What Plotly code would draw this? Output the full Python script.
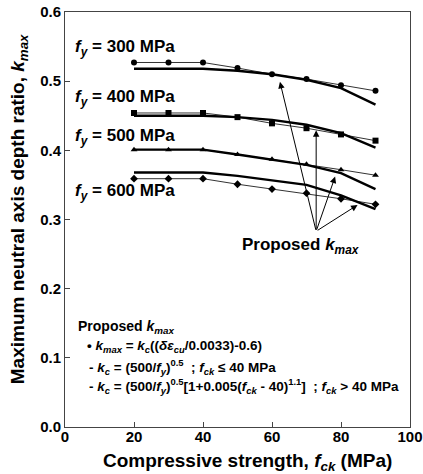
import plotly.graph_objects as go

fck = [20, 30, 40, 50, 60, 70, 80, 90]

k300 = [0.527, 0.527, 0.527, 0.519, 0.510, 0.503, 0.494, 0.486]
k400 = [0.454, 0.454, 0.454, 0.448, 0.439, 0.432, 0.423, 0.414]
k500 = [0.401, 0.401, 0.401, 0.394, 0.387, 0.380, 0.372, 0.364]
k600 = [0.359, 0.359, 0.359, 0.351, 0.344, 0.338, 0.330, 0.322]

p300 = [0.518, 0.518, 0.518, 0.515, 0.510, 0.502, 0.490, 0.466]
p400 = [0.450, 0.450, 0.450, 0.448, 0.444, 0.437, 0.425, 0.404]
p500 = [0.401, 0.401, 0.401, 0.394, 0.387, 0.379, 0.367, 0.344]
p600 = [0.368, 0.368, 0.368, 0.363, 0.357, 0.350, 0.335, 0.315]

fy_labels = ["300", "400", "500", "600"]
label_y = [0.548, 0.476, 0.419, 0.340]
arrow_tip_x = [62.3, 72.8, 78.3, 84.8]
arrow_tip_y = [0.499, 0.429, 0.362, 0.321]
arrow_origin = (72.8, 0.283)

FONT = "Liberation Sans, Arial, sans-serif"
fig = go.Figure()

series = [(k300, p300, "circle"), (k400, p400, "square"),
          (k500, p500, "triangle-up"), (k600, p600, "diamond")]
for k, p, sym in series:
    fig.add_trace(go.Scatter(x=fck, y=k, mode="lines+markers",
                             line=dict(color="#333", width=1),
                             marker=dict(symbol=sym, size=6, color="black"),
                             showlegend=False))
    fig.add_trace(go.Scatter(x=fck, y=p, mode="lines",
                             line=dict(color="black", width=2.4),
                             showlegend=False))

ann = []
for lab, yv in zip(fy_labels, label_y):
    ann.append(dict(x=2.3, y=yv, xref="x", yref="y", xanchor="left",
                    text="<b><i>f<sub>y</sub></i> = %s MPa</b>" % lab,
                    showarrow=False, font=dict(size=17, color="black", family=FONT)))
for tx, ty in zip(arrow_tip_x, arrow_tip_y):
    ann.append(dict(x=tx, y=ty, xref="x", yref="y", ax=arrow_origin[0], ay=arrow_origin[1],
                    axref="x", ayref="y", text="", showarrow=True,
                    arrowhead=2, arrowsize=1.3, arrowwidth=1, arrowcolor="black"))
ann.append(dict(x=68.4, y=0.261, xref="x", yref="y", xanchor="center",
                text="<b>Proposed <i>k<sub>max</sub></i></b>", showarrow=False,
                font=dict(size=17, color="black", family=FONT)))

box_lines = [
    (3.2, 0.145, "<b>Proposed <i>k<sub>max</sub></i></b>", 14),
    (5.8, 0.116, "<b>• <i>k<sub>max</sub></i> = <i>k<sub>c</sub></i>((<i>δε<sub>cu</sub></i>/0.0033)-0.6)</b>", 13.5),
    (6.3, 0.087, "<b>- <i>k<sub>c</sub></i> = (500/<i>f<sub>y</sub></i>)<sup>0.5</sup>  ; <i>f<sub>ck</sub></i> ≤ 40 MPa</b>", 13.5),
    (6.3, 0.059, "<b>- <i>k<sub>c</sub></i> = (500/<i>f<sub>y</sub></i>)<sup>0.5</sup>[1+0.005(<i>f<sub>ck</sub></i> - 40)<sup>1.1</sup>]  ; <i>f<sub>ck</sub></i> > 40 MPa</b>", 13.5),
]
for xv, yv, t, s in box_lines:
    ann.append(dict(x=xv, y=yv, xref="x", yref="y", xanchor="left", text=t,
                    showarrow=False, font=dict(size=s, color="black", family=FONT)))

# axis titles
ann.append(dict(x=0.53, y=-0.084, xref="paper", yref="paper", xanchor="center", yanchor="middle",
                text="<b>Compressive strength, <i>f<sub>ck</sub></i> (MPa)</b>", showarrow=False,
                font=dict(size=19, color="black", family=FONT)))
ann.append(dict(x=-0.133, y=0.525, xref="paper", yref="paper", xanchor="center", yanchor="middle",
                textangle=-90,
                text="<b>Maximum neutral axis depth ratio, <i>k<sub>max</sub></i></b>", showarrow=False,
                font=dict(size=19, color="black", family=FONT)))

fig.update_layout(
    width=423, height=474,
    margin=dict(l=65, r=13, t=12, b=47),
    plot_bgcolor="white", paper_bgcolor="white",
    font=dict(family=FONT, color="black"),
    annotations=ann,
    xaxis=dict(range=[0, 100], tickvals=[0, 20, 40, 60, 80, 100],
               ticktext=["<b>%d</b>" % v for v in [0, 20, 40, 60, 80, 100]],
               ticks="inside", ticklen=5, tickcolor="#444", automargin=False,
               ticklabelstandoff=-4,
               showline=True, linecolor="#444", linewidth=1, mirror=True,
               showgrid=False, zeroline=False,
               tickfont=dict(size=15, family=FONT)),
    yaxis=dict(range=[0, 0.6], tickvals=[0, 0.1, 0.2, 0.3, 0.4, 0.5, 0.6],
               ticktext=["<b>%.1f</b>" % v for v in [0, 0.1, 0.2, 0.3, 0.4, 0.5, 0.6]],
               ticks="inside", ticklen=5, tickcolor="#444", automargin=False,
               showline=True, linecolor="#444", linewidth=1, mirror=True,
               showgrid=False, zeroline=False,
               tickfont=dict(size=15, family=FONT)),
)

fig.write_html("out.html", config={"displayModeBar": False},
               post_script="document.body.style.margin='0px';document.body.style.overflow='hidden';")
